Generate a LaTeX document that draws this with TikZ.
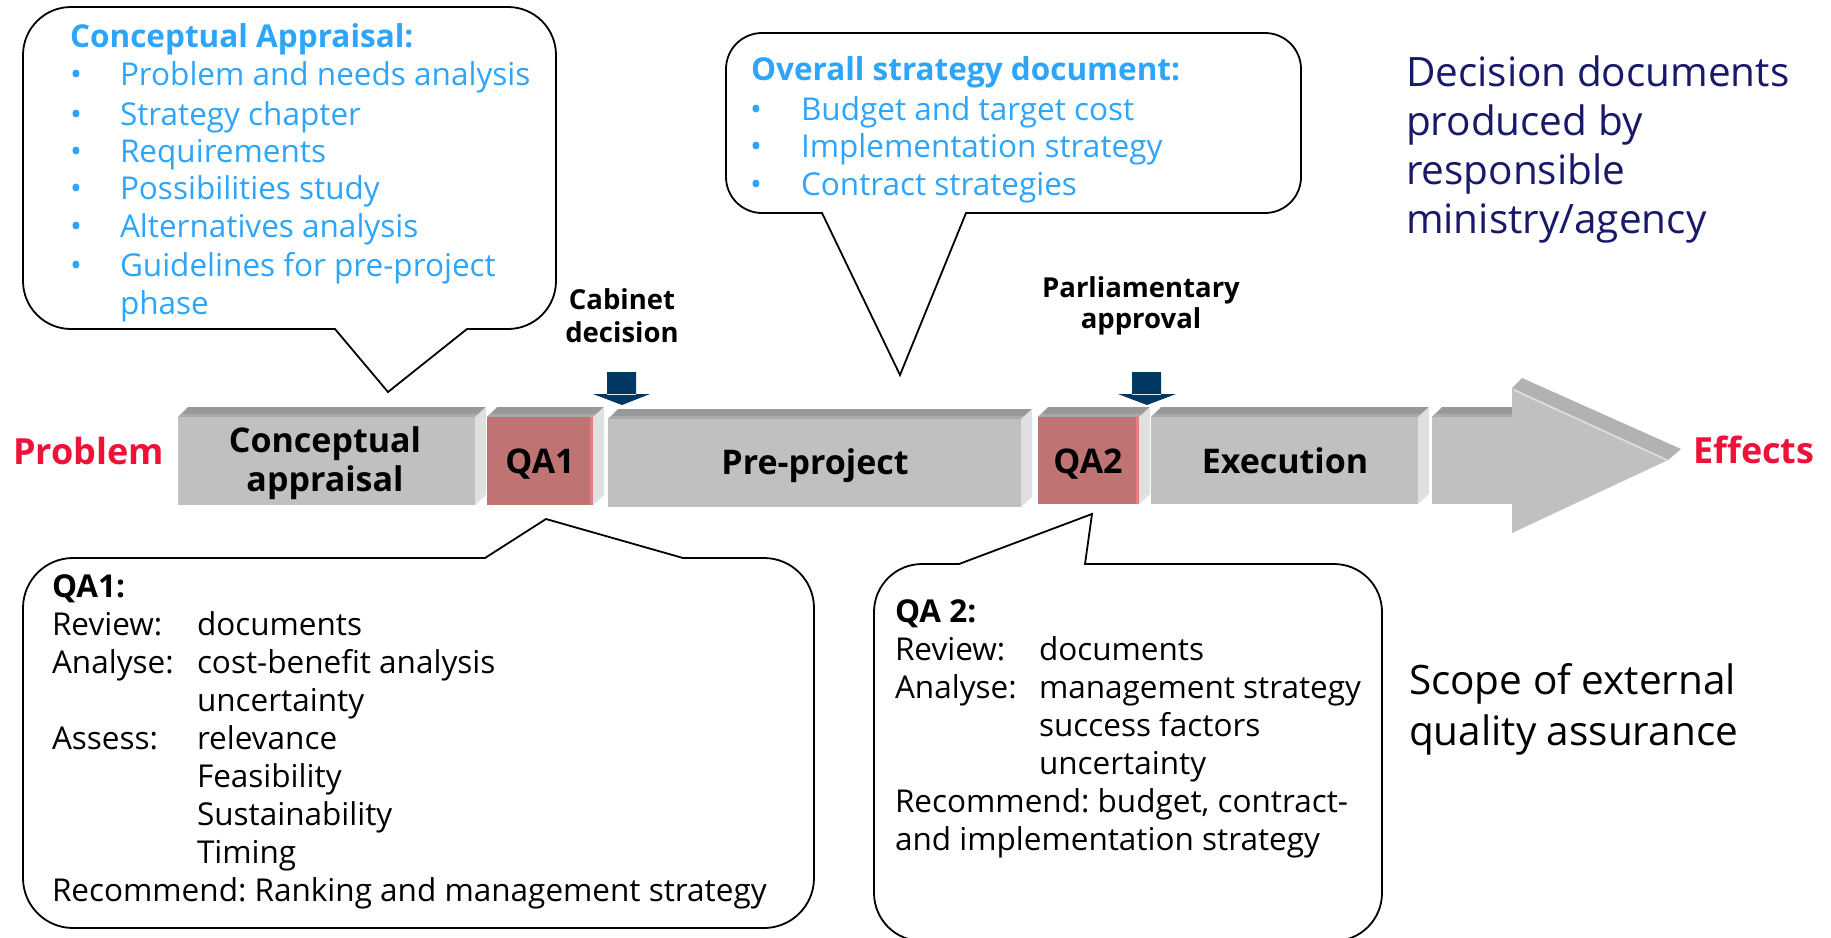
\documentclass[tikz,border=0pt]{standalone}
\usepackage{fontspec}
\setmainfont{Open Sans}
\frenchspacing
\definecolor{itemblue}{RGB}{45,165,250}
\definecolor{navytext}{RGB}{25,25,105}
\definecolor{alertred}{RGB}{238,18,56}
\definecolor{milestone}{RGB}{0,56,100}
\definecolor{facetop}{RGB}{153,153,153}
\definecolor{facetoplow}{RGB}{170,170,170}
\definecolor{facefront}{RGB}{192,192,192}
\definecolor{faceside}{RGB}{224,224,224}
\definecolor{qafront}{RGB}{192,115,115}
\definecolor{qaedge}{RGB}{228,128,128}
\definecolor{headbevel}{RGB}{178,178,178}
\newcommand{\itemsize}{\fontsize{31.5}{38}\selectfont}
\newcommand{\barsize}{\fontsize{34}{39}\selectfont\bfseries}
\newcommand{\tipsize}{\fontsize{36}{40}\selectfont\bfseries}
\newcommand{\gatesize}{\fontsize{27.5}{32}\selectfont\bfseries}
\newcommand{\sidesize}{\fontsize{40.5}{49}\selectfont}
% front face from x1 to x2, top yt, bottom yb (y grows downwards), front colour
\newcommand{\phasebox}[5]{%
  \fill[facetop] (#1,#3) -- (#1+10,#3-10) -- (#2+11,#3-10) -- (#2,#3) -- cycle;
  \fill[facetoplow] (#1,#3) -- (#1+3,#3-3) -- (#2+3,#3-3) -- (#2,#3) -- cycle;
  \fill[faceside] (#2,#3) -- (#2+11,#3-10) -- (#2+11,#4-10) -- (#2,#4) -- cycle;
  \fill[#5] (#1,#3) rectangle (#2,#4);
}
\begin{document}
\begin{tikzpicture}[x=1pt,y=-1pt,
  lbl/.style={inner sep=0pt, outer sep=0pt, anchor=base west},
  clbl/.style={inner sep=0pt, outer sep=0pt, anchor=base},
  bubble/.style={draw=black, line width=1.8pt, fill=white, line join=miter},
  gate/.style={fill=milestone}]
\fill[white] (0,0) rectangle (1831,937);
\useasboundingbox (0,0) rectangle (1831,937);

% ---- timeline bar ----
\phasebox{178}{475}{417}{505}{facefront}
\phasebox{487}{593}{417}{505}{qafront}
\fill[qaedge] (590,417) rectangle (593,505);
\phasebox{608}{1021}{419}{507}{facefront}
\phasebox{1038}{1139}{417}{504}{qafront}
\fill[qaedge] (1136,417) rectangle (1139,504);
\phasebox{1151}{1418}{417}{504}{facefront}
% arrow shaft and head
\fill[facetop] (1432,417) -- (1442,407) -- (1512,407) -- (1512,417) -- cycle;
\fill[facetoplow] (1432,417) -- (1435,414) -- (1512,414) -- (1512,417) -- cycle;
\fill[facefront] (1432,417) rectangle (1512,504);
\fill[headbevel] (1512,388) -- (1522,378) -- (1681,449) -- (1668,460) -- cycle;
\fill[facefront] (1512,388) -- (1668,460) -- (1512,533) -- cycle;
\draw[faceside, line width=1.5pt] (1514,390) -- (1667,460);

\node[clbl] (ca1) at (325,452) {\barsize Conceptual};
\node[clbl] (ca2) at (325,491) {\barsize appraisal};
\node[clbl] (qa1) at (540,473) {\barsize QA1};
\node[clbl] (pp) at (815,474) {\barsize Pre-project};
\node[clbl] (qa2) at (1088,473) {\barsize QA2};
\node[clbl] (ex) at (1285,473) {\barsize Execution};

\node[lbl, text=alertred] (problem) at (13,464) {\tipsize Problem};
\node[lbl, text=alertred] (effects) at (1693,463) {\tipsize Effects};

% ---- milestone markers ----
\fill[gate] (607,372) rectangle (636,395) (593,394) -- (650,394) -- (622,405) -- cycle;
\fill[gate] (1132,372) rectangle (1161,395) (1118,394) -- (1176,394) -- (1147,405) -- cycle;
\node[clbl] (cab1) at (622,309) {\gatesize Cabinet};
\node[clbl] (cab2) at (622,342) {\gatesize decision};
\node[clbl] (par1) at (1141,297) {\gatesize Parliamentary};
\node[clbl] (par2) at (1141,328) {\gatesize approval};

% ---- conceptual appraisal callout ----
\draw[bubble] (71,7) -- (508,7) arc[start angle=-90, end angle=0, radius=48]
  -- (556,281) arc[start angle=0, end angle=90, radius=48]
  -- (467,329) -- (388,392) -- (335,329)
  -- (71,329) arc[start angle=90, end angle=180, radius=48]
  -- (23,55) arc[start angle=180, end angle=270, radius=48] -- cycle;
\node[lbl, text=itemblue] (catitle) at (70,47.7) {\itemsize\bfseries Conceptual Appraisal:};
\foreach \y/\t [count=\i] in {85/Problem and needs analysis, 125/Strategy chapter,
    162/Requirements, 199/Possibilities study, 237/Alternatives analysis,
    276/Guidelines for pre-project} {
  \node[lbl, text=itemblue] (cab\i) at (70,\y) {\itemsize •};
  \node[lbl, text=itemblue] (cai\i) at (120,\y) {\itemsize \t};
}
\node[lbl, text=itemblue] (cai7) at (120,314) {\itemsize phase};

% ---- overall strategy callout ----
\draw[bubble] (762,33) -- (1265,33) arc[start angle=-90, end angle=0, radius=36]
  -- (1301,177) arc[start angle=0, end angle=90, radius=36]
  -- (966,213) -- (900,375) -- (822,213)
  -- (762,213) arc[start angle=90, end angle=180, radius=36]
  -- (726,69) arc[start angle=180, end angle=270, radius=36] -- cycle;
\node[lbl, text=itemblue] (ostitle) at (751,80) {\itemsize\bfseries Overall strategy document:};
\foreach \y/\t [count=\i] in {120/Budget and target cost, 157/Implementation strategy,
    195/Contract strategies} {
  \node[lbl, text=itemblue] (osb\i) at (750,\y) {\itemsize •};
  \node[lbl, text=itemblue] (osi\i) at (801,\y) {\itemsize \t};
}

% ---- QA1 callout ----
\draw[bubble] (73,558) -- (485,558) -- (546,519) -- (683,558)
  -- (764,558) arc[start angle=-90, end angle=0, radius=50]
  -- (814,878) arc[start angle=0, end angle=90, radius=50]
  -- (73,928) arc[start angle=90, end angle=180, radius=50]
  -- (23,608) arc[start angle=180, end angle=270, radius=50] -- cycle;
\node[lbl] (q1t) at (52,597) {\itemsize\bfseries QA1:};
\node[lbl] (q1l1) at (52,635) {\itemsize Review:};
\node[lbl] (q1v1) at (197,635) {\itemsize documents};
\node[lbl] (q1l2) at (52,673) {\itemsize Analyse:};
\node[lbl] (q1v2) at (197,673) {\itemsize cost-benefit analysis};
\node[lbl] (q1v3) at (197,711) {\itemsize uncertainty};
\node[lbl] (q1l3) at (52,749) {\itemsize Assess:};
\node[lbl] (q1v4) at (197,749) {\itemsize relevance};
\node[lbl] (q1v5) at (197,787) {\itemsize Feasibility};
\node[lbl] (q1v6) at (197,825) {\itemsize Sustainability};
\node[lbl] (q1v7) at (197,863) {\itemsize Timing};
\node[lbl] (q1r) at (52,901) {\itemsize Recommend: Ranking and management strategy};

% ---- QA2 callout ----
\draw[bubble] (922,564) -- (959,564) -- (1092,514) -- (1085,564)
  -- (1334,564) arc[start angle=-90, end angle=0, radius=48]
  -- (1382,893) arc[start angle=0, end angle=90, radius=48]
  -- (922,941) arc[start angle=90, end angle=180, radius=48]
  -- (874,612) arc[start angle=180, end angle=270, radius=48] -- cycle;
\node[lbl] (q2t) at (895,622) {\itemsize\bfseries QA 2:};
\node[lbl] (q2l1) at (895,660) {\itemsize Review:};
\node[lbl] (q2v1) at (1039,660) {\itemsize documents};
\node[lbl] (q2l2) at (895,698) {\itemsize Analyse:};
\node[lbl] (q2v2) at (1039,698) {\itemsize management strategy};
\node[lbl] (q2v3) at (1039,736) {\itemsize success factors};
\node[lbl] (q2v4) at (1039,774) {\itemsize uncertainty};
\node[lbl] (q2r1) at (895,812) {\itemsize Recommend: budget, contract-};
\node[lbl] (q2r2) at (895,850) {\itemsize and implementation strategy};

% ---- side notes ----
\node[lbl, text=navytext] (dec1) at (1406,86) {\sidesize Decision documents};
\node[lbl, text=navytext] (dec2) at (1406,135) {\sidesize produced by};
\node[lbl, text=navytext] (dec3) at (1406,184) {\sidesize responsible};
\node[lbl, text=navytext] (dec4) at (1406,233) {\sidesize ministry/agency};
\node[lbl] (scope1) at (1409,694) {\sidesize Scope of external};
\node[lbl] (scope2) at (1409,745) {\sidesize quality assurance};
\end{tikzpicture}
\end{document}
